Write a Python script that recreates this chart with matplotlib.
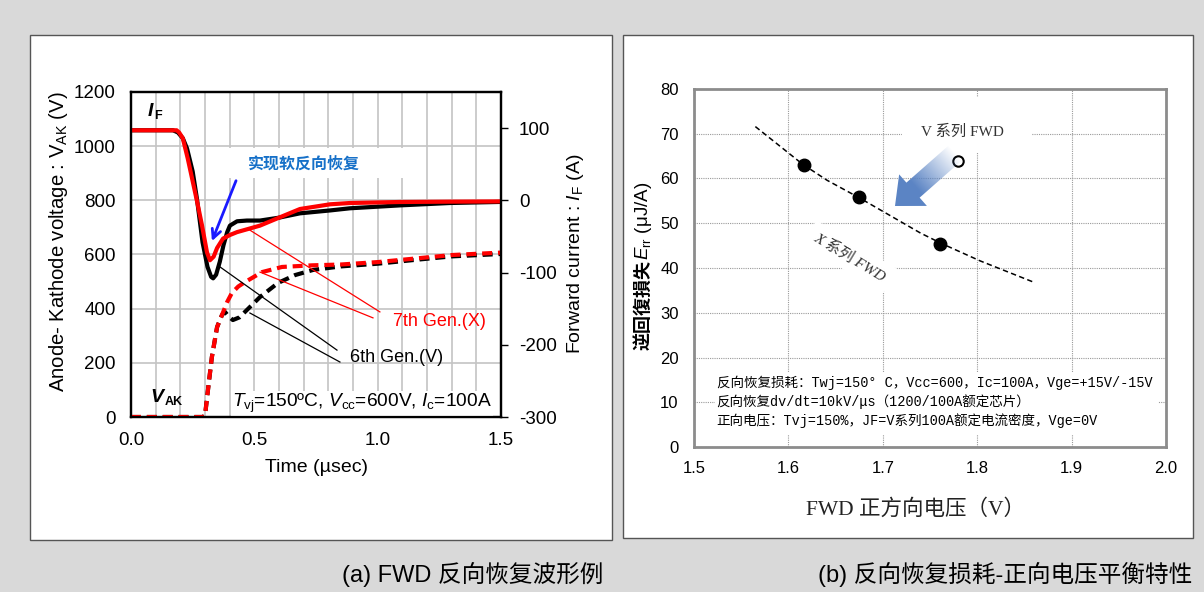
import numpy as np
import matplotlib.pyplot as plt
from matplotlib.patches import Rectangle, Polygon

plt.rcParams['font.family'] = ['Liberation Sans', 'Noto Sans CJK SC']
plt.rcParams['mathtext.fontset'] = 'custom'
plt.rcParams['mathtext.rm'] = 'Liberation Sans'
plt.rcParams['mathtext.it'] = 'Liberation Sans:italic'
plt.rcParams['mathtext.bf'] = 'Liberation Sans:bold'
plt.rcParams['axes.unicode_minus'] = False

# ---- (a) FWD reverse recovery waveforms ----
# forward current I_F (A), 6th gen (V) / 7th gen (X)
t_if_6 = [0, 0.17, 0.19, 0.21, 0.227, 0.25, 0.267, 0.29, 0.31, 0.325, 0.333, 0.345,
          0.36, 0.375, 0.39, 0.401, 0.43, 0.47, 0.523, 0.6, 0.685, 0.807, 0.888, 1.09, 1.293, 1.5]
if_6 = [97, 97, 94, 86, 72, 40, 3, -58, -92, -106, -108, -103,
        -85, -62, -44, -35, -29, -28, -28, -24, -18, -14, -11, -7, -3.7, -2.2]
t_if_7 = [0, 0.185, 0.195, 0.21, 0.23, 0.251, 0.27, 0.288, 0.308, 0.32, 0.335, 0.349,
          0.373, 0.401, 0.43, 0.523, 0.6, 0.685, 0.807, 0.888, 1.09, 1.3, 1.5]
if_7 = [97, 97, 94, 86, 58, 25, -5, -35, -72, -83, -78, -66,
        -53, -48, -44, -35, -24, -12, -5.5, -3.7, -2.3, -1.8, -1.5]
# anode-kathode voltage V_AK (V)
t_vak_6 = [0, 0.29, 0.30, 0.312, 0.328, 0.349, 0.369, 0.381, 0.395, 0.413, 0.44, 0.462,
           0.523, 0.596, 0.665, 0.738, 0.85, 1.0, 1.15, 1.3, 1.5]
vak_6 = [0, 0, 5, 100, 222, 332, 377, 388, 372, 358, 368, 388,
         443, 495, 524, 543, 556, 566, 580, 593, 602]
t_vak_7 = [0, 0.29, 0.30, 0.312, 0.328, 0.349, 0.369, 0.39, 0.409, 0.435, 0.462, 0.531,
           0.612, 0.734, 0.85, 1.0, 1.15, 1.3, 1.5]
vak_7 = [0, 0, 5, 100, 222, 332, 377, 425, 458, 482, 498, 535,
         554, 560, 563, 572, 585, 598, 607]

# ---- (b) Err vs VF trade-off ----
vf_x = [1.616, 1.675, 1.761]
err_x = [63.0, 55.9, 45.3]
vf_v = [1.780]
err_v = [63.8]
trend_vf = [1.565, 1.615, 1.641, 1.675, 1.74, 1.762, 1.803, 1.859]
trend_err = [71.6, 63.2, 59.6, 55.7, 47.8, 45.5, 41.6, 36.9]

notes = ['反向恢复损耗：Twj=150° C，Vcc=600，Ic=100A，Vge=+15V/-15V',
         '反向恢复dv/dt=10kV/μs（1200/100A额定芯片）',
         '正向电压：Tvj=150%，JF=V系列100A额定电流密度，Vge=0V']

W, H = 1204, 592
fig = plt.figure(figsize=(W / 100, H / 100), dpi=100, facecolor='#d9d9d9')

def fx(px):
    return px / W

def fy(py):
    return 1 - py / H

# white panels
fig.add_artist(Rectangle((fx(30), fy(540)), fx(582), 505 / H, transform=fig.transFigure,
                         fc='white', ec='#555555', lw=1, zorder=-1))
fig.add_artist(Rectangle((fx(623), fy(538)), fx(570), 503 / H, transform=fig.transFigure,
                         fc='white', ec='#555555', lw=1, zorder=-1))

# ================= left chart =================
ax = fig.add_axes([fx(131), fy(417), fx(370), 325 / H])
ax.set_xlim(0, 1.5)
ax.set_ylim(0, 1200)
ax.set_xticks([0, 0.5, 1.0, 1.5])
ax.set_xticklabels(['0.0', '0.5', '1.0', '1.5'])
ax.set_xticks(np.arange(0, 1.51, 0.1), minor=True)
ax.set_yticks(range(0, 1201, 200))
ax.set_axisbelow(True)
ax.grid(which='both', axis='x', color='#c4c4c4', lw=1.2)
ax.grid(which='major', axis='y', color='#c4c4c4', lw=1.2)
ax.tick_params(which='both', length=0, labelsize=13.5)
ax.tick_params(axis='y', pad=11)
ax.tick_params(axis='x', pad=11)
for s in ax.spines.values():
    s.set_color('black')
    s.set_linewidth(1.6)

ax.plot(t_vak_6, vak_6, color='black', lw=3, dashes=(2.4, 1.4), zorder=3)
ax.plot(t_vak_7, vak_7, color='red', lw=3, dashes=(2.4, 1.4), zorder=4)

# white label box behind the blue note
ax.add_patch(Rectangle((0.353, 883), 0.75, 110, fc='white', ec='none', zorder=1))
ax.text(0.70, 935, '实现软反向恢复', color='#1670c8', fontsize=11.5, fontweight='bold',
        ha='center', va='center', zorder=5)
ax.annotate('', xy=(0.324, 640), xytext=(0.43, 882),
            arrowprops=dict(arrowstyle='->', color='#1a1aff', lw=2, mutation_scale=16), zorder=6)

# pointer lines
ax.plot([0.482, 1.009], [690, 388], color='red', lw=0.9, zorder=5)
ax.plot([0.523, 0.981], [535, 366], color='red', lw=0.9, zorder=5)
ax.plot([0.361, 0.835], [554, 247], color='black', lw=0.9, zorder=5)
ax.plot([0.482, 0.847], [384, 203], color='black', lw=0.9, zorder=5)
ax.text(1.062, 351, '7th Gen.(X)', color='red', fontsize=13, va='center')
ax.text(0.888, 218, '6th Gen.(V)', color='black', fontsize=13, va='center')

ax.text(0.41, 50, r'$T_{\rm vj}$=150ºC, $V_{\rm cc}$=600V, $I_{\rm c}$=100A', fontsize=13.8,
        va='center', bbox=dict(fc='white', ec='none', pad=1), zorder=5)
ax.text(0.068, 1128, 'I', fontsize=14, fontweight='bold', style='italic', va='center')
ax.text(0.092, 1110, 'F', fontsize=9, fontweight='bold', va='center')
ax.text(0.08, 72, 'V', fontsize=14, fontweight='bold', style='italic', va='center')
ax.text(0.137, 54, 'AK', fontsize=9, fontweight='bold', va='center')

ax2 = ax.twinx()
ax2.set_ylim(-300, 150)
ax2.set_yticks([-300, -200, -100, 0, 100])
ax2.tick_params(axis='y', direction='out', length=5, width=1, labelsize=13.5, pad=8)
for s in ax2.spines.values():
    s.set_color('black')
    s.set_linewidth(1.6)
ax2.plot(t_if_6, if_6, color='black', lw=3, solid_joinstyle='round')
ax2.plot(t_if_7, if_7, color='red', lw=3, solid_joinstyle='round')

fig.text(fx(58), fy(242), r'Anode- Kathode voltage : V$_{\rm AK}$ (V)', rotation=90,
         ha='center', va='center', fontsize=14.6)
fig.text(fx(576), fy(254), r'Forward current : $I_{\rm F}$ (A)', rotation=90,
         ha='center', va='center', fontsize=14)
fig.text(fx(317), fy(468), 'Time (µsec)', ha='center', va='center', fontsize=14)

# ================= right chart =================
bx = fig.add_axes([fx(694), fy(447), fx(472), 358 / H])
bx.set_axisbelow(True)
bx.grid(color='#9a9a9a', lw=0.8, linestyle=(0, (1, 1)))
for s in bx.spines.values():
    s.set_color('#8c8c8c')
    s.set_linewidth(2)
bx.tick_params(length=0, labelsize=12)
bx.tick_params(axis='y', pad=11)
bx.tick_params(axis='x', pad=10)

bx.plot(trend_vf, trend_err, color='black', lw=1.1, dashes=(3.5, 2.2), zorder=3)
bx.plot(vf_x, err_x, 'o', color='black', ms=9, zorder=4)
bx.plot(vf_v, err_v, 'o', mfc='white', mec='black', mew=1.5, ms=7.5, zorder=4)

bx.add_patch(Rectangle((1.72, 65.7), 0.138, 12.5, fc='white', ec='none', zorder=1))
bx.text(1.784, 70.4, 'V 系列 FWD', fontsize=11, color='#333333', ha='center', va='center',
        family=['Liberation Serif', 'Noto Sans CJK SC'], zorder=5)
bx.text(1.665, 42.5, 'X 系列 FWD', fontsize=11, color='#333333', ha='center', va='center',
        rotation=-31, rotation_mode='anchor', style='italic',
        family=['Liberation Serif', 'Noto Sans CJK SC'],
        bbox=dict(fc='white', ec='none', pad=5), zorder=5)

bx.add_patch(Rectangle((1.522, 2.7), 0.469, 14.1, fc='white', ec='none', zorder=1))
for i, line in enumerate(notes):
    bx.text(1.524, 14.3 - i * 4.2, line, fontsize=9.75, va='center',
            family=['Liberation Mono', 'Noto Sans CJK SC'], zorder=5)

# gradient block arrow, built in axes pixels
axw, axh = 472.0, 358.0
tip = np.array([201.0, 241.0])
u = np.array([0.75, 0.66])
u = u / np.hypot(*u)
n = np.array([-u[1], u[0]])
alen, hlen, hw, sw = 80, 24, 21, 10
base = tip + u * hlen
tail = tip + u * alen
pts = np.array([tip, base + n * hw, base + n * sw, tail + n * sw, tail - n * sw,
                base - n * sw, base - n * hw])
x0, y0 = pts.min(axis=0)
x1, y1 = pts.max(axis=0)
gx, gy = np.meshgrid(np.linspace(x0, x1, 120), np.linspace(y0, y1, 120))
sproj = ((gx - tip[0]) * u[0] + (gy - tip[1]) * u[1]) / alen
rgba = np.zeros(gx.shape + (4,))
rgba[..., 0], rgba[..., 1], rgba[..., 2] = 0.36, 0.52, 0.77
rgba[..., 3] = np.clip((1 - sproj) / 0.65, 0, 1)
im = bx.imshow(rgba, extent=(x0 / axw, x1 / axw, y0 / axh, y1 / axh), origin='lower',
               transform=bx.transAxes, aspect='auto', interpolation='bilinear', zorder=4)
clip = Polygon(pts / [axw, axh], closed=True, transform=bx.transAxes, fc='none', ec='none')
bx.add_patch(clip)
im.set_clip_path(clip)

bx.set_xlim(1.5, 2.0)
bx.set_ylim(0, 80)
bx.set_xticks([1.5, 1.6, 1.7, 1.8, 1.9, 2.0])
bx.set_xticklabels(['1.5', '1.6', '1.7', '1.8', '1.9', '2.0'])
bx.set_yticks(range(0, 81, 10))

# y label split: CJK part (font fallback) + mathtext part
fig.text(fx(643), fy(350), '逆回復損失', rotation=90, ha='center', va='bottom',
         fontsize=13, fontweight='bold', family=['Noto Sans CJK JP'])
fig.text(fx(643), fy(260), r'$E_{\rm rr}$ (μJ/A)', rotation=90, ha='center', va='bottom',
         fontsize=13.5)
fig.text(fx(915), fy(509), 'FWD 正方向电压（V）', ha='center', va='center', fontsize=15.5,
         family=['Liberation Serif', 'Noto Sans CJK SC'], color='#222222')

# captions
fig.text(fx(473), fy(575), '(a) FWD 反向恢复波形例', ha='center', va='center', fontsize=17)
fig.text(fx(1005), fy(575), '(b) 反向恢复损耗-正向电压平衡特性', ha='center', va='center',
         fontsize=17)

fig.savefig('out.png', dpi=100, facecolor=fig.get_facecolor())
